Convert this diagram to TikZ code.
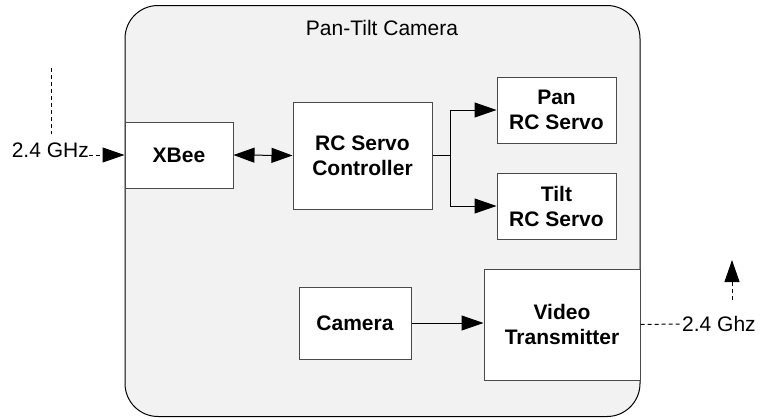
\documentclass[tikz,border=0pt]{standalone}
\usepackage{fontspec}
\setmainfont{Liberation Sans}
\usetikzlibrary{arrows.meta}
\definecolor{panel}{HTML}{F2F2F2}
\definecolor{edge}{HTML}{4A4A4A}
\begin{document}
\begin{tikzpicture}[x=1pt,y=-1pt,
  every node/.style={font=\fontsize{21}{25}\selectfont},
  frame/.style={draw=black, fill=panel, line width=1pt, rounded corners=33pt},
  blk/.style={draw=edge, fill=white, line width=1pt, align=center,
              font=\fontsize{21}{25}\selectfont\bfseries, inner sep=0pt},
  lbl/.style={inner sep=0pt},
  tip/.style={-{Triangle[length=22pt,width=15pt]}},
  tips/.style={{Triangle[length=21pt,width=15pt]}-{Triangle[length=21pt,width=15pt]}},
  wire/.style={line width=1pt, draw=black},
  radio/.style={line width=1pt, draw=black, dash pattern=on 4pt off 3pt}]
\useasboundingbox (0,0) rectangle (760,418);

% enclosure of the camera head
\node[frame, minimum width=515pt, minimum height=411pt] (frame) at (382.5,211) {};
\node[lbl] (title) at (382,28) {Pan-Tilt Camera};

% functional blocks
\node[blk, minimum width=108pt, minimum height=66pt]  (xbee) at (179,155)   {XBee};
\node[blk, minimum width=139pt, minimum height=107pt] (ctrl) at (362.5,155.5) {RC Servo\\Controller};
\node[blk, minimum width=119pt, minimum height=66pt]  (pan)  at (556.5,110) {Pan\\RC Servo};
\node[blk, minimum width=119pt, minimum height=66pt]  (tilt) at (556.5,206) {Tilt\\RC Servo};
\node[blk, minimum width=112pt, minimum height=72pt]  (cam)  at (355,323)   {Camera};
\node[blk, minimum width=156pt, minimum height=111pt] (vtx)  at (562,324.5) {Video\\Transmitter};

% command link (receive side)
\node[lbl, anchor=base east] (rxlbl) at (89,157) {2.4 GHz};
\coordinate (rxtop) at (51,68);
\coordinate (rxbot) at (51,134);
\draw[radio] (rxtop) -- (rxbot);
\draw[radio, tip] (rxlbl.east |- xbee.west) -- (xbee.west);

% servo control
\draw[wire, tips] (xbee.east) -- (ctrl.west);
\draw[wire] (ctrl.east) -- ++(18,0) coordinate (split);
\draw[wire, tip] (split) |- (pan.west);
\draw[wire, tip] (split) |- (tilt.west);

% video path
\draw[wire, tip] (cam.east) -- (cam.east -| vtx.west);

% video link (transmit side)
\node[lbl, anchor=west] (txlbl) at (682,324) {2.4 Ghz};
\coordinate (txbot) at (732,300);
\coordinate (txtop) at (732,260);
\draw[radio] (vtx.east) -- (txlbl.west);
\draw[radio, tip] (txbot) -- (txtop);
\end{tikzpicture}
\end{document}
